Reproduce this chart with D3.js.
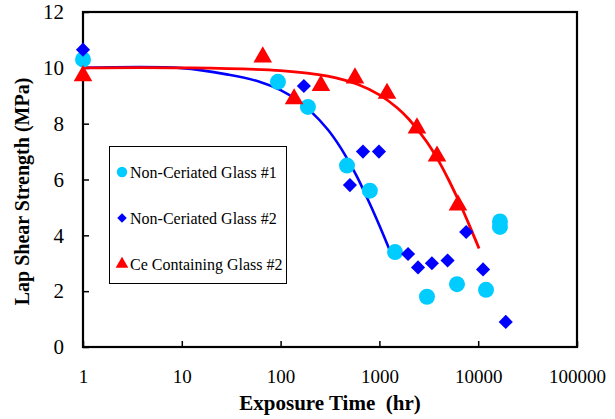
<!DOCTYPE html>
<meta charset="utf-8">
<style>
  body { margin: 0; background: #fff; }
  text { font-family: "Liberation Serif", "Times New Roman", serif; }
</style>
<script src="https://d3js.org/d3.v7.min.js"></script>
<div id="chart"></div>
<script>

  // Non-Ceriated Glass #1
  var glass1Hours = [1, 94, 189, 470, 800, 1440, 3030, 6100, 12000, 16600, 16600]
  var glass1Mpa   = [10.3, 9.5, 8.6, 6.5, 5.6, 3.4, 1.8, 2.25, 2.05, 4.5, 4.3]

  // Non-Ceriated Glass #2
  var glass2Hours = [1, 172, 503, 682, 990, 1950, 2460, 3400, 4900, 7560, 11200, 19000]
  var glass2Mpa   = [10.65, 9.35, 5.8, 7.0, 7.0, 3.33, 2.85, 3.0, 3.1, 4.12, 2.78, 0.9]

  // Ce Containing Glass #2
  var ceHours = [1, 66, 137, 256, 566, 1194, 2400, 3830, 6240]
  var ceMpa   = [9.75, 10.42, 8.92, 9.4, 9.67, 9.12, 7.88, 6.87, 5.12]

  // trend lines
  var fitBlueHours = [1, 10, 30, 60, 100, 150, 200, 300, 400, 500, 600, 800, 1000, 1270]
  var fitBlueMpa   = [10, 9.99, 9.75, 9.51, 9.2, 8.82, 8.46, 7.79, 7.17, 6.59, 6.07, 5.13, 4.35, 3.47]
  var fitRedHours  = [1, 10, 100, 300, 600, 1000, 1500, 2000, 3000, 4000, 5000, 6000, 7000, 8000, 9000, 10200]
  var fitRedMpa    = [10, 10, 9.9, 9.7, 9.41, 9.03, 8.58, 8.15, 7.36, 6.65, 6.0, 5.42, 4.9, 4.42, 3.99, 3.53]

  var xTicks = [1, 10, 100, 1000, 10000, 100000]
  var yTicks = [0, 2, 4, 6, 8, 10, 12]
  var legendNames = ["Non-Ceriated Glass #1", "Non-Ceriated Glass #2", "Ce Containing Glass #2"]

  var width = 615, height = 419
  var plotL = 83, plotR = 577, plotT = 12, plotB = 347
  var serif = '"Liberation Serif", "Times New Roman", serif'

  var svg = d3.select("#chart").append("svg")
      .attr("width", width)
      .attr("height", height)

  var x = d3.scaleLog().domain([1, 100000]).range([plotL, plotR])
  var y = d3.scaleLinear().domain([0, 12]).range([plotB, plotT])

  // frame
  svg.append("rect")
      .attr("x", plotL).attr("y", plotT)
      .attr("width", plotR - plotL).attr("height", plotB - plotT)
      .attr("fill", "none").attr("stroke", "black").attr("stroke-width", 2.2)

  // axes, ticks inside
  svg.append("g")
      .attr("transform", "translate(0," + plotB + ")")
      .call(d3.axisBottom(x).tickValues(xTicks).tickSizeInner(-6).tickSizeOuter(0).tickFormat(d3.format("d")))
      .call(function(g) {
        g.attr("font-family", null)
        g.select(".domain").remove()
        g.selectAll("line").attr("stroke-width", 1.5)
        g.selectAll("text").style("font-family", serif).attr("font-size", 19).attr("dy", null).attr("y", 36)
      })

  svg.append("g")
      .attr("transform", "translate(" + plotL + ",0)")
      .call(d3.axisLeft(y).tickValues(yTicks).tickSizeInner(-6).tickSizeOuter(0))
      .call(function(g) {
        g.attr("font-family", null)
        g.select(".domain").remove()
        g.selectAll("line").attr("stroke-width", 1.5)
        g.selectAll("text").style("font-family", serif).attr("font-size", 21).attr("x", -19)
      })

  // axis titles
  svg.append("text")
      .attr("x", (plotL + plotR) / 2).attr("y", 410)
      .attr("text-anchor", "middle")
      .attr("font-size", 21).attr("font-weight", "bold")
      .style("white-space", "pre")
      .text("Exposure Time  (hr)")

  svg.append("text")
      .attr("transform", "translate(29," + ((plotT + plotB) / 2 + 12) + ") rotate(-90)")
      .attr("text-anchor", "middle")
      .attr("font-size", 20).attr("font-weight", "bold")
      .text("Lap Shear Strength (MPa)")

  // trend lines
  var line = d3.line()
      .x(function(d) { return x(d[0]) })
      .y(function(d) { return y(d[1]) })
      .curve(d3.curveCatmullRom)

  svg.append("path")
      .attr("d", line(d3.zip(fitBlueHours, fitBlueMpa)))
      .attr("fill", "none").attr("stroke", "#0000ff").attr("stroke-width", 2.6)

  svg.append("path")
      .attr("d", line(d3.zip(fitRedHours, fitRedMpa)))
      .attr("fill", "none").attr("stroke", "#ff0000").attr("stroke-width", 2.8)

  // markers
  var circle = d3.symbol().type(d3.symbolCircle).size(200)
  var diamond = d3.symbol().type(d3.symbolSquare).size(100)
  var triangle = d3.symbol().type(d3.symbolTriangle).size(150)

  svg.selectAll("g1")
    .data(d3.zip(glass1Hours, glass1Mpa))
    .enter()
    .append("path")
      .attr("d", circle)
      .attr("transform", function(d) { return "translate(" + x(d[0]) + "," + y(d[1]) + ")" })
      .attr("fill", "#00ccff")

  svg.selectAll("g2")
    .data(d3.zip(glass2Hours, glass2Mpa))
    .enter()
    .append("path")
      .attr("d", diamond)
      .attr("transform", function(d) { return "translate(" + x(d[0]) + "," + y(d[1]) + ") rotate(45)" })
      .attr("fill", "#0000ff")

  svg.selectAll("ce")
    .data(d3.zip(ceHours, ceMpa))
    .enter()
    .append("path")
      .attr("d", triangle)
      .attr("transform", function(d) { return "translate(" + x(d[0]) + "," + (y(d[1]) + 1) + ")" })
      .attr("fill", "#ff0000")

  // legend
  var legend = svg.append("g")
  legend.append("rect")
      .attr("x", 109.5).attr("y", 146.5)
      .attr("width", 177).attr("height", 137)
      .attr("fill", "white").attr("stroke", "black").attr("stroke-width", 1)

  var legendRows = [172, 218, 264]
  var legendSymbols = [
    { s: d3.symbol().type(d3.symbolCircle).size(85), fill: "#00ccff", rot: 0 },
    { s: d3.symbol().type(d3.symbolSquare).size(45), fill: "#0000ff", rot: 45 },
    { s: d3.symbol().type(d3.symbolTriangle).size(70), fill: "#ff0000", rot: 0 }
  ]
  legendNames.forEach(function(name, i) {
    legend.append("path")
        .attr("d", legendSymbols[i].s)
        .attr("transform", "translate(122," + legendRows[i] + ") rotate(" + legendSymbols[i].rot + ")")
        .attr("fill", legendSymbols[i].fill)
    legend.append("text")
        .attr("x", 130).attr("y", legendRows[i] + 5.5)
        .attr("font-size", 16)
        .text(name)
  })

</script>
